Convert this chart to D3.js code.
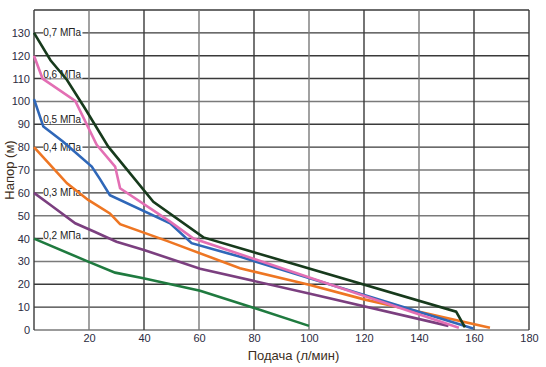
<!DOCTYPE html>
<html><head><meta charset="utf-8">
<script src="https://cdn.jsdelivr.net/npm/d3@7"></script>
<style>body{margin:0;background:#fff;}svg{display:block;font-family:Arial,"Liberation Sans",sans-serif;}</style>
</head><body>
<svg id="c" width="546" height="367"></svg>
<script>
// Data (x = подача л/мин, y = напор м)
const seriesNames = ["0,2 МПа","0,3 МПа","0,4 МПа","0,5 МПа","0,6 МПа","0,7 МПа"];
const seriesColors = ["#1f7a3f","#7b3f7f","#ee7623","#2f67b8","#e36fb4","#173a1c"];
const s02 = [[0,40],[19.7,29.9],[29.5,25.1],[39.8,22.6],[60.4,17.2],[79.2,10],[100,1.8]];
const s03 = [[0,60],[6,54.7],[15,46.7],[22,43],[30,38.6],[40,35],[60.4,26.8],[100,16],[150.7,1.8]];
const s04 = [[0,80],[12,64.2],[19.7,56.9],[27.6,51],[31.3,46.3],[48.3,39],[74.9,27],[100,19.8],[120,13.4],[165.8,1]];
const s05 = [[0,101],[3.4,89],[10.5,82.5],[21,71.5],[24,66],[27.6,59],[49.5,46.7],[57.3,38],[75,32],[159.7,0.7]];
const s06 = [[0,120],[3.1,110],[15,100.2],[22.8,81],[29.5,71.5],[31.3,62],[49.5,47.4],[58,40],[154.5,1]];
const s07 = [[0,130],[6,118],[12,109.4],[18.5,97],[27,80.2],[43.4,56.1],[61.6,40.5],[153.5,8],[156.7,1.2]];
const seriesData = [s02,s03,s04,s05,s06,s07];
const labelPos = [[3,41.5],[3,60],[3,80],[3,92],[3,112],[3,130]];
const xTicks = [20,40,60,80,100,120,140,160,180];
const yTicks = [0,10,20,30,40,50,60,70,80,90,100,110,120,130];
const xTitle = "Подача (л/мин)";
const yTitle = "Напор (м)";

const svg = d3.select("#c");
const L=34, R=529, T=10, B=330;
const x = d3.scaleLinear().domain([0,180]).range([L,R]);
const y = d3.scaleLinear().domain([0,140]).range([B,T]);

const grid = svg.append("g");
const hLines = d3.range(0,150,10);
grid.selectAll("line.h").data(hLines).join("line")
  .attr("x1",x(0)).attr("x2",x(180)).attr("y1",d=>y(d)).attr("y2",d=>y(d))
  .attr("stroke",(d,i)=>[30,50,70,100,0].includes(d)?"#7a7a7a":"#3a3a3a").attr("stroke-width",1.4);
grid.selectAll("line.v").data(d3.range(0,200,20)).join("line")
  .attr("y1",y(0)).attr("y2",y(140)).attr("x1",d=>x(d)).attr("x2",d=>x(d))
  .attr("stroke",(d,i)=>[20,60,100,140].includes(d)?"#7a7a7a":"#3a3a3a").attr("stroke-width",1.4);

// axes (ticks labels only)
const xAxis = d3.axisBottom(x).tickValues(xTicks).tickSize(0).tickPadding(4);
const gx = svg.append("g").attr("transform",`translate(0,${B})`).call(xAxis);
gx.select(".domain").remove();
gx.selectAll("text").attr("font-size",11).attr("fill","#2b2b3f").attr("font-family","Arial, Liberation Sans, sans-serif");
const yAxis = d3.axisLeft(y).tickValues(yTicks).tickSize(0).tickPadding(4);
const gy = svg.append("g").attr("transform",`translate(${L},0)`).call(yAxis);
gy.select(".domain").remove();
gy.selectAll("text").attr("font-size",11).attr("fill","#2b2b3f").attr("font-family","Arial, Liberation Sans, sans-serif");

// labels with white boxes
const lab = svg.append("g");
seriesNames.forEach((n,i)=>{
  const g = lab.append("g").attr("transform",`translate(${x(labelPos[i][0])},${y(labelPos[i][1])})`);
  const t = g.append("text").text(n).attr("font-size",10).attr("fill","#222").attr("dy","0.35em").attr("x",1);
  const bb = t.node().getBBox();
  g.insert("rect","text").attr("x",bb.x).attr("y",bb.y+1).attr("width",bb.width+1).attr("height",bb.height-2).attr("fill","#fff");
});

const line = d3.line().x(d=>x(d[0])).y(d=>y(d[1]));
svg.append("g").selectAll("path").data(seriesData).join("path")
  .attr("d",line).attr("fill","none").attr("stroke",(d,i)=>seriesColors[i])
  .attr("stroke-width",2.6).attr("stroke-linejoin","miter");

svg.append("text").text(xTitle).attr("x",(x(0)+x(180))/2+12).attr("y",360)
  .attr("text-anchor","middle").attr("font-size",13).attr("fill","#3d2f22");
svg.append("text").text(yTitle).attr("transform",`translate(14,${y(70)}) rotate(-90)`)
  .attr("text-anchor","middle").attr("font-size",13).attr("fill","#3d2f22");
</script>
</body></html>
